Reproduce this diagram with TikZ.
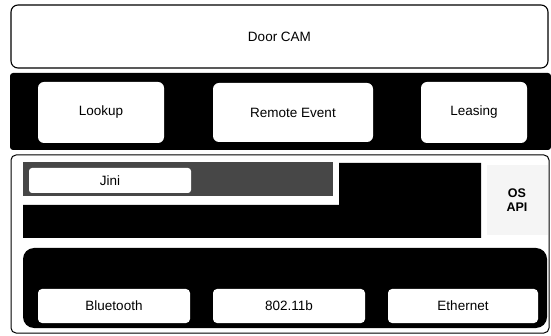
\documentclass[tikz,border=0pt]{standalone}
\usepackage{fontspec}
\setmainfont{Liberation Sans}
\begin{document}
\begin{tikzpicture}[x=1pt,y=-1pt,
  every node/.style={font=\fontsize{13.5}{15}\selectfont, inner sep=0pt},
  frame/.style={draw=black, line width=1.1pt, fill=white, rounded corners=7pt},
  whitebox/.style={draw=none, fill=white, rounded corners=6pt},
  smallbox/.style={draw=none, fill=white, rounded corners=4pt},
  band/.style={fill=black, draw=none}]
\useasboundingbox (0,0) rectangle (551,336);
% top
\node[frame, minimum width=537pt, minimum height=63pt] (door) at (279.5,36.5) {Door CAM};
% dark band
\node[band, rounded corners=3pt, minimum width=541pt, minimum height=77pt] (svc) at (280.5,111.5) {};
\node[whitebox, minimum width=126pt, minimum height=61pt] (lookup) at (101,112.5) {Lookup};
\node[whitebox, minimum width=160pt, minimum height=59pt] (remote) at (293,112.5) {Remote Event};
\node[whitebox, minimum width=106pt, minimum height=61pt] (leasing) at (474,112.5) {Leasing};
% bottom frame
\node[draw=black, line width=1pt, fill=white, rounded corners=5pt, minimum width=538pt, minimum height=178pt] (lower) at (280,244) {};
% OS API area
\node[fill=black!4, minimum width=61pt, minimum height=70pt] (osarea) at (517.5,200) {};
\node[font=\fontsize{12.5}{13.5}\selectfont\bfseries, align=center] (osapi) at (517,200) {OS\\API};
% black L shape
\fill[black] (339,163) -- (481,163) -- (481,238) -- (23,238) -- (23,205) -- (339,205) -- cycle;
\coordinate (lcorner) at (481,238);
% gray Jini area
\node[fill=black!72, minimum width=310pt, minimum height=34pt] (jiniarea) at (178,179) {};
\node[smallbox, rounded corners=3pt, minimum width=162pt, minimum height=25pt] (jini) at (110,180.5) {Jini};
% network black box
\node[band, rounded corners=11pt, minimum width=524pt, minimum height=80pt] (net) at (285,288) {};
\node[smallbox, minimum width=152pt, minimum height=34pt] (bt) at (114,306) {Bluetooth};
\node[smallbox, minimum width=152pt, minimum height=34pt] (wifi) at (289,306) {802.11b};
\node[smallbox, minimum width=150pt, minimum height=34pt] (eth) at (463,306) {Ethernet};
\end{tikzpicture}
\end{document}
